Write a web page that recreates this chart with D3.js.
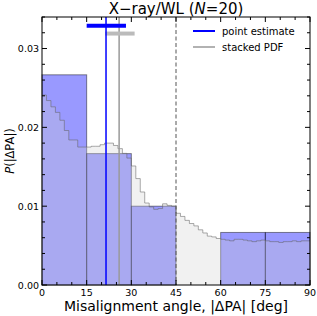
<!DOCTYPE html>
<html>
<head>
<meta charset="utf-8">
<script src="https://cdn.jsdelivr.net/npm/d3@7"></script>
<style>
  body { margin: 0; background: #fff; }
  text { font-family: "DejaVu Sans", sans-serif; }
</style>
</head>
<body>
<div id="chart"></div>
<script>
// histogram of point estimates (N = 20), bin edges every 15 deg
var binEdges = [0, 15, 30, 45, 60, 75, 90];
var binCounts = [8, 5, 3, 0, 2, 2];
var nTotal = 20;

// stacked PDF, 1.5 deg bins from 0 to 90
var pdfStep = 1.5;
var pdfValues = [
    0.0241, 0.0234, 0.0226, 0.0219, 0.0209, 0.0196, 0.0184, 0.0184, 0.0175, 0.0175,
    0.0175, 0.0176, 0.0176, 0.0178, 0.0180, 0.0180, 0.0177, 0.0173, 0.0167, 0.0161,
    0.0151, 0.0135, 0.0118, 0.0104, 0.0099, 0.0096, 0.0097, 0.0103, 0.0101, 0.0100,
    0.0091, 0.0087, 0.0082, 0.0078, 0.0075, 0.0070, 0.0066, 0.0062, 0.0061, 0.0059,
    0.0058, 0.0057, 0.0056, 0.0058, 0.0058, 0.0057, 0.0056, 0.0055, 0.0056, 0.0057,
    0.0056, 0.0055, 0.0055, 0.0054, 0.0055, 0.0055, 0.0056, 0.0055, 0.0056, 0.0056
];

// point estimate and stacked PDF summary: [centre, low, high, y level]
var pointEstimate = [21.5, 15.0, 28.2, 0.0329];
var stackedEstimate = [25.9, 21.2, 31.1, 0.0319];
var limitAngle = 45;

var xTicks = [0, 15, 30, 45, 60, 75, 90];
var yTicks = [0, 0.01, 0.02, 0.03];

var width = 317, height = 316;
var margin = {top: 17, right: 7, bottom: 31, left: 42};

var svg = d3.select('#chart')
  .append('svg')
    .attr('width', width)
    .attr('height', height);

var x = d3.scaleLinear()
    .domain([0, 90])
    .range([margin.left, width - margin.right]);

var y = d3.scaleLinear()
    .domain([0, 0.034])
    .range([height - margin.bottom, margin.top]);

// blue histogram bars
var bars = binCounts.map((c, i) => ({
    x0: binEdges[i],
    x1: binEdges[i + 1],
    v: c / (nTotal * (binEdges[i + 1] - binEdges[i]))
}));

svg.append('g')
  .selectAll('rect')
  .data(bars.filter(d => d.v > 0))
  .enter()
  .append('rect')
    .attr('x', d => x(d.x0))
    .attr('y', d => y(d.v))
    .attr('width', d => x(d.x1) - x(d.x0))
    .attr('height', d => y(0) - y(d.v))
    .attr('fill', 'blue')
    .attr('fill-opacity', 0.4)
    .attr('stroke', '#000')
    .attr('stroke-opacity', 0.45)
    .attr('stroke-width', 1);

// stacked PDF as step fill
var pdfPts = pdfValues.map((v, i) => ({x: i * pdfStep, v: v}));
pdfPts.push({x: 90, v: pdfValues[pdfValues.length - 1]});

var area = d3.area()
    .x(d => x(d.x))
    .y0(y(0))
    .y1(d => y(d.v))
    .curve(d3.curveStepAfter);

var line = d3.line()
    .x(d => x(d.x))
    .y(d => y(d.v))
    .curve(d3.curveStepAfter);

svg.append('path')
    .datum(pdfPts)
    .attr('d', area)
    .attr('fill', '#cfcfcf')
    .attr('fill-opacity', 0.3);

svg.append('path')
    .datum(pdfPts)
    .attr('d', line)
    .attr('fill', 'none')
    .attr('stroke', '#666')
    .attr('stroke-opacity', 0.55)
    .attr('stroke-width', 1);

// dashed 45 deg line
svg.append('line')
    .attr('x1', x(limitAngle)).attr('x2', x(limitAngle))
    .attr('y1', y.range()[1]).attr('y2', y(0))
    .attr('stroke', '#555')
    .attr('stroke-width', 1)
    .attr('stroke-dasharray', '4,2.5');

// estimates: vertical line + horizontal error bar
function drawEstimate(est, lineColor, barColor) {
    svg.append('line')
        .attr('x1', x(est[0])).attr('x2', x(est[0]))
        .attr('y1', y.range()[1]).attr('y2', y(0))
        .attr('stroke', lineColor)
        .attr('stroke-width', 1.5);
    svg.append('line')
        .attr('x1', x(est[1])).attr('x2', x(est[2]))
        .attr('y1', y(est[3])).attr('y2', y(est[3]))
        .attr('stroke', barColor)
        .attr('stroke-width', 4);
}
drawEstimate(stackedEstimate, '#999', '#bbb');
drawEstimate(pointEstimate, 'blue', 'blue');

// axes, ticks inward on all four sides
var x0 = x.range()[0], x1 = x.range()[1];
var yb = y.range()[0], yt = y.range()[1];
var xMinor = d3.range(0, 91, 5);
var yMinor = d3.range(0, 0.0341, 0.002);

var ticks = svg.append('g').attr('stroke', '#000').attr('stroke-width', 1);
xMinor.forEach(v => {
    var len = xTicks.includes(v) ? 5 : 3;
    ticks.append('line').attr('x1', x(v)).attr('x2', x(v)).attr('y1', yb).attr('y2', yb - len);
    ticks.append('line').attr('x1', x(v)).attr('x2', x(v)).attr('y1', yt).attr('y2', yt + len);
});
yMinor.forEach(v => {
    var major = yTicks.some(t => Math.abs(t - v) < 1e-9);
    var len = major ? 5 : 3;
    ticks.append('line').attr('y1', y(v)).attr('y2', y(v)).attr('x1', x0).attr('x2', x0 + len);
    ticks.append('line').attr('y1', y(v)).attr('y2', y(v)).attr('x1', x1).attr('x2', x1 - len);
});

svg.append('rect')
    .attr('x', x0).attr('y', yt)
    .attr('width', x1 - x0).attr('height', yb - yt)
    .attr('fill', 'none')
    .attr('stroke', '#000')
    .attr('stroke-width', 1);

svg.append('g')
  .selectAll('text')
  .data(xTicks)
  .enter()
  .append('text')
    .attr('x', d => x(d))
    .attr('y', yb + 11)
    .attr('text-anchor', 'middle')
    .attr('font-size', '9.5px')
    .text(d => d);

svg.append('g')
  .selectAll('text')
  .data(yTicks)
  .enter()
  .append('text')
    .attr('x', x0 - 3)
    .attr('y', d => y(d) + 3.5)
    .attr('text-anchor', 'end')
    .attr('font-size', '9.5px')
    .text(d => d3.format('.2f')(d));

// title and axis labels
var title = svg.append('text')
    .attr('x', (x0 + x1) / 2)
    .attr('y', 14)
    .attr('text-anchor', 'middle')
    .attr('font-size', '15px');
title.append('tspan').text('X\u2212ray/WL (');
title.append('tspan').attr('font-style', 'italic').text('N');
title.append('tspan').text('=20)');

svg.append('text')
    .attr('x', (x0 + x1) / 2)
    .attr('y', 311)
    .attr('text-anchor', 'middle')
    .attr('font-size', '14px')
    .text('Misalignment angle, |\u0394PA| [deg]');

var ylab = svg.append('text')
    .attr('transform', 'translate(14,' + ((yt + yb) / 2) + ') rotate(-90)')
    .attr('text-anchor', 'middle')
    .attr('font-size', '11.5px');
ylab.append('tspan').attr('font-style', 'italic').text('P');
ylab.append('tspan').text('(|\u0394PA|)');

// legend
var legend = [
    {label: 'point estimate', color: 'blue', w: 2},
    {label: 'stacked PDF', color: '#999', w: 1.5}
];
var lg = svg.append('g');
legend.forEach((d, i) => {
    var ly = 31 + i * 16;
    lg.append('line')
        .attr('x1', 193).attr('x2', 215)
        .attr('y1', ly).attr('y2', ly)
        .attr('stroke', d.color)
        .attr('stroke-width', d.w);
    lg.append('text')
        .attr('x', 222)
        .attr('y', ly + 3.5)
        .attr('font-size', '10px')
        .text(d.label);
});
</script>
</body>
</html>
